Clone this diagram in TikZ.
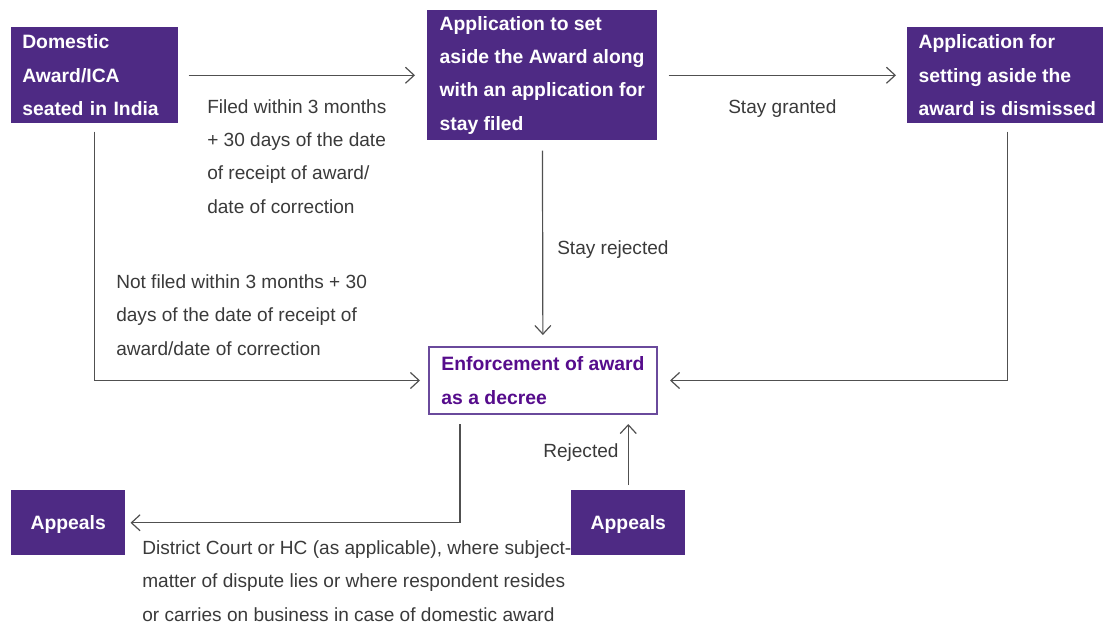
\documentclass[tikz,border=0pt]{standalone}
\usepackage{fontspec}
\setmainfont{Liberation Sans}
\usetikzlibrary{arrows.meta}
\definecolor{boxpurple}{HTML}{4E2A84}
\definecolor{enfpurple}{HTML}{560C8C}
\definecolor{enfborder}{HTML}{6A4A9C}
\definecolor{linegray}{HTML}{505050}
\definecolor{labelgray}{HTML}{3A3A3A}
\begin{document}
\begin{tikzpicture}[
  x=0.75pt, y=-0.75pt,
  every node/.style={font=\fontsize{14.3}{25}\selectfont, align=left},
  box/.style={fill=boxpurple, text=white, font=\fontsize{14.5}{25}\selectfont\bfseries, anchor=north west, inner xsep=0pt, inner ysep=0pt},
  enfbox/.style={draw=enfborder, line width=1.5pt, fill=white, text=enfpurple, font=\fontsize{14.5}{25}\selectfont\bfseries, anchor=north west, inner sep=0pt},
  lbl/.style={anchor=base west, inner sep=0pt, text=labelgray},
  line/.style={draw=linegray, line width=0.9pt},
  arr/.style={line, -{Straight Barb[length=6.5pt, width=12pt, line width=0.9pt]}}
]
\useasboundingbox (0,0) rectangle (1103,626);

% Top row
\node[box, inner xsep=8.25pt, text width=108.75pt, minimum height=72pt] (dom) at (11,27) {Domestic\\Award/ICA\\seated in India};
\node[box, minimum width=172.5pt, minimum height=97.5pt] (app) at (427,10) {Application to set\\aside the Award along\\with an application for\\stay filed};
\node[box, minimum width=150pt, minimum height=72pt] (dis) at (907,27) {Application for\\setting aside the\\award is dismissed};

% Middle
\node[enfbox, minimum width=171pt, minimum height=50.25pt] (enf) at (428,346) {Enforcement of award\\as a decree};

% Bottom row
\node[box, align=center, minimum width=85.5pt, minimum height=48.75pt, text depth=1pt] (apL) at (11,490) {Appeals};
\node[box, align=center, minimum width=85.5pt, minimum height=48.75pt, text depth=1pt] (apR) at (571,490) {Appeals};
\coordinate (enfout) at ([xshift=24pt]enf.south west);

% Labels (placed by the baseline of their last line)
\node[lbl] (filed) at (207,213) {Filed within 3 months\\+ 30 days of the date\\of receipt of award/\\date of correction};
\node[lbl] (granted) at (728,113) {Stay granted};
\node[lbl] (srej) at (557,254) {Stay rejected};
\node[lbl] (notfiled) at (116,355) {Not filed within 3 months + 30\\days of the date of receipt of\\award/date of correction};
\node[lbl] (rej) at (543,457) {Rejected};
\node[lbl] (court) at (142,621) {District Court or HC (as applicable), where subject-\\matter of dispute lies or where respondent resides\\or carries on business in case of domestic award};

% Connectors
\draw[arr, shorten <=7.5pt, shorten >=9pt] (dom) -- (app);
\draw[arr, shorten <=8.25pt, shorten >=8.25pt] (app) -- (dis);
\draw[arr, shorten <=7.5pt, shorten >=8.25pt] (app) -- (enf);
\draw[arr, shorten <=6pt, shorten >=6pt] (dom) |- (enf);
\draw[arr, shorten <=6pt, shorten >=9pt] (dis) |- (enf);
\draw[arr, shorten <=6.75pt, shorten >=3.75pt] (enfout) |- (apL);
\draw[arr, shorten <=3.75pt, shorten >=6.75pt] (apR) -- (apR |- enf.south);

\end{tikzpicture}
\end{document}
